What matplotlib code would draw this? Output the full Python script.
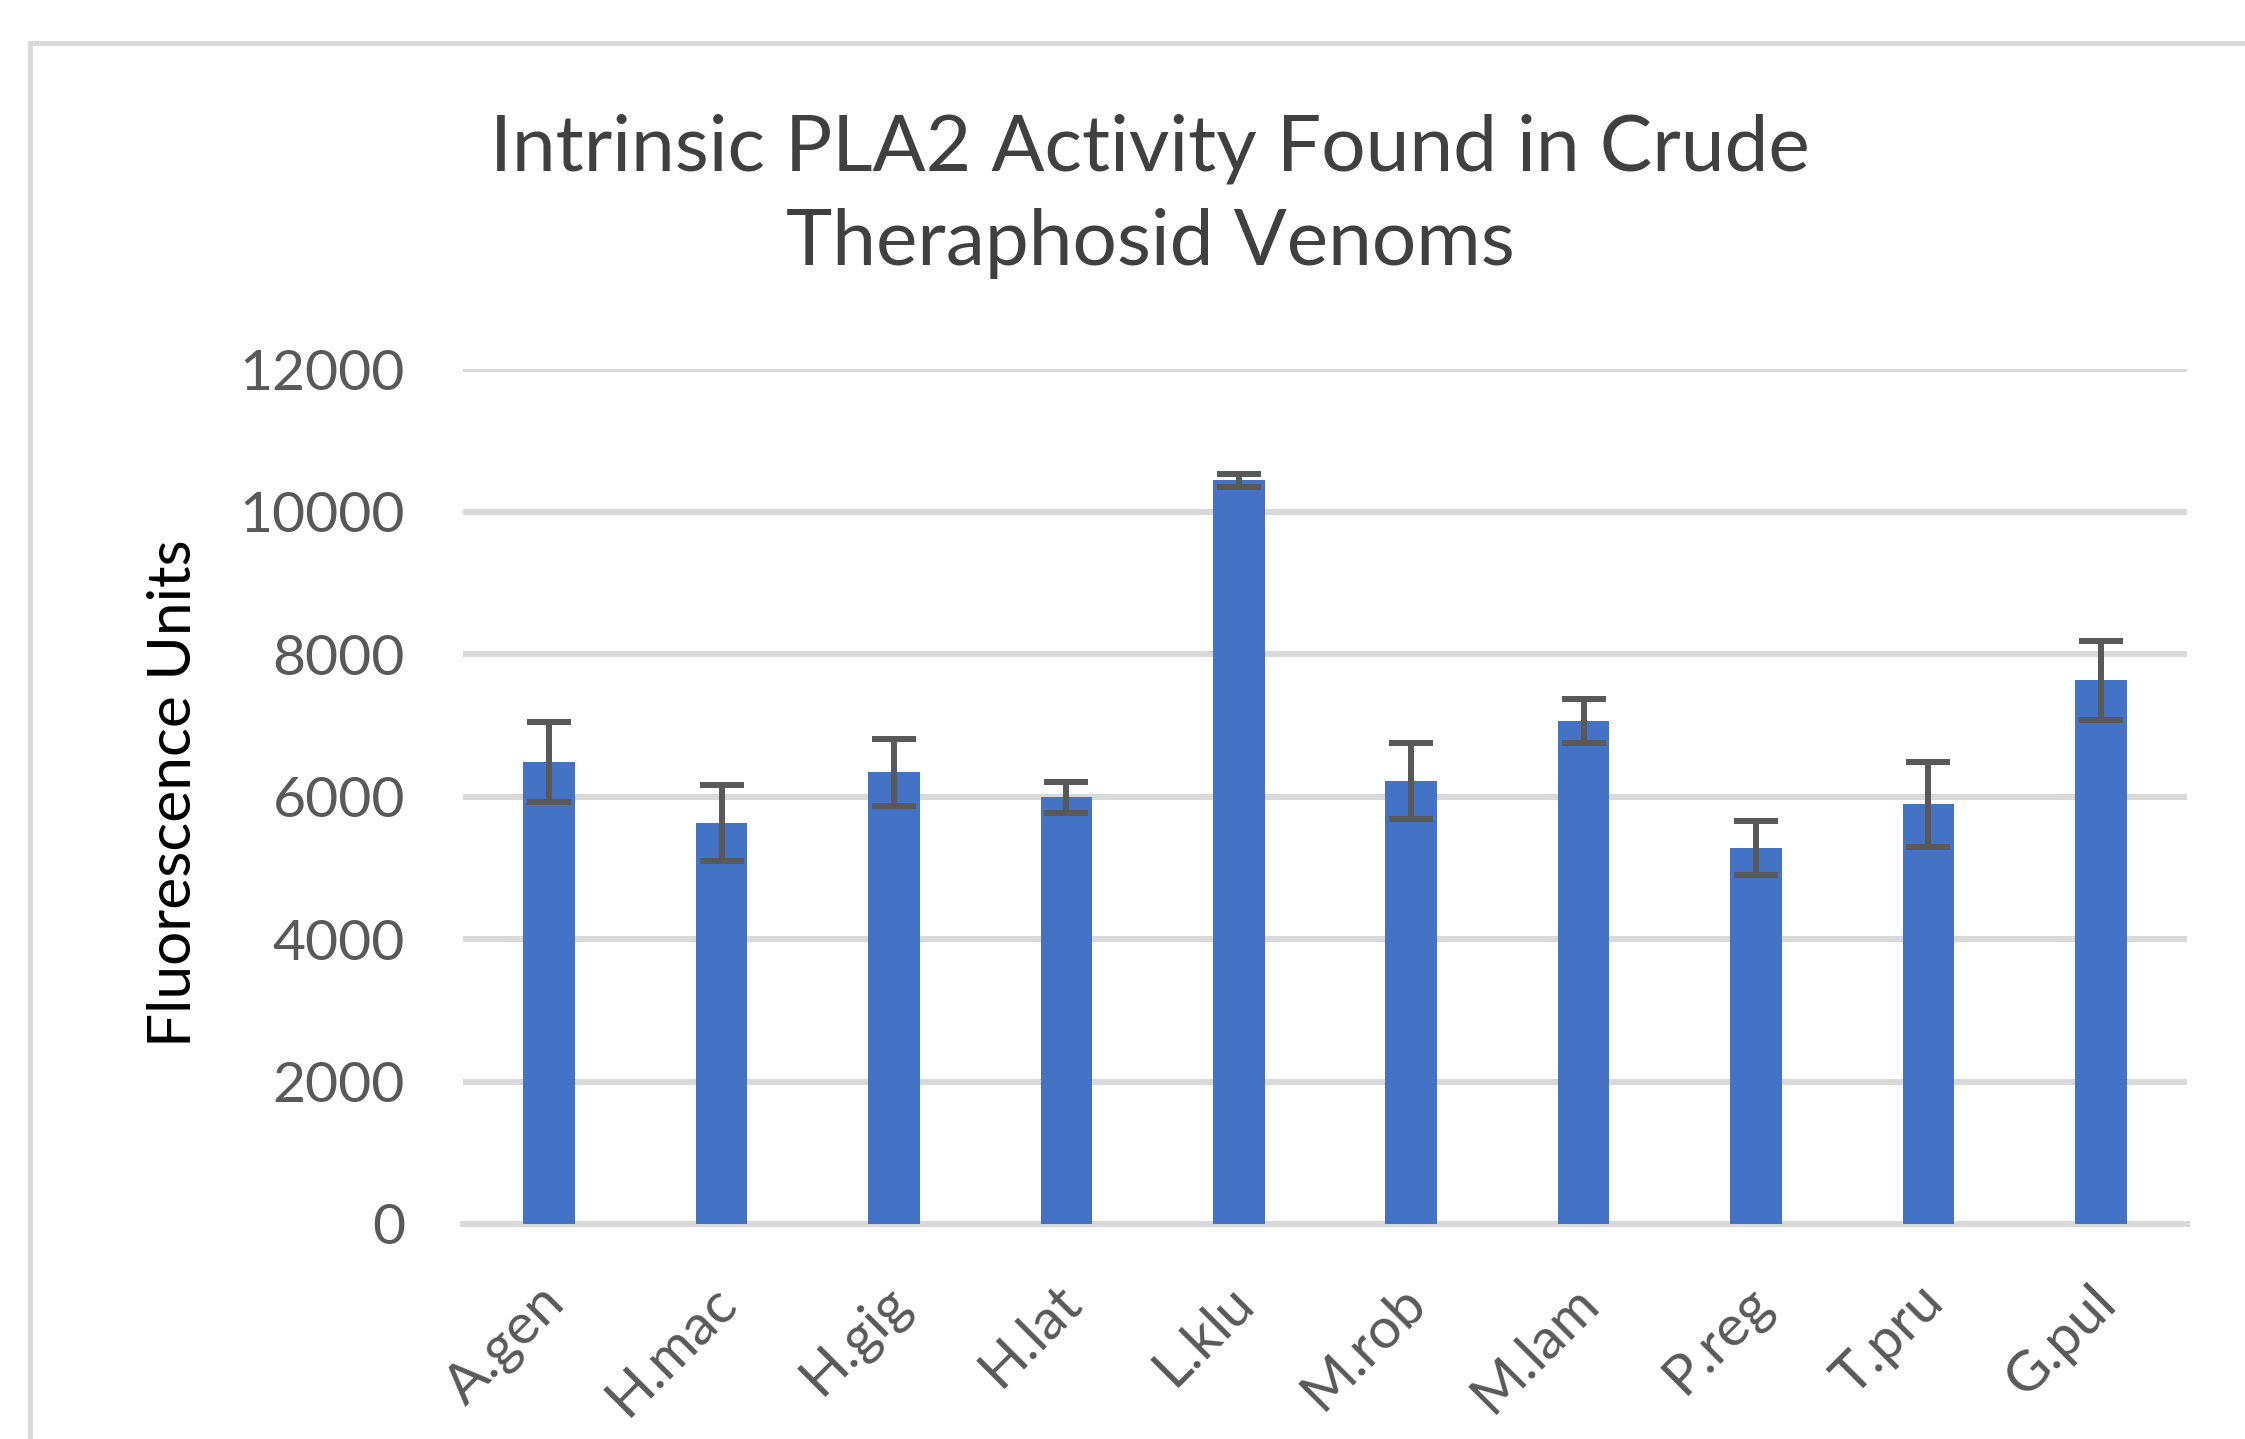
import matplotlib
matplotlib.use("Agg")
from matplotlib import pyplot as plt
from matplotlib.patches import Rectangle
import matplotlib.transforms as mtransforms

# datos
especies = ["A.gen", "H.mac", "H.gig", "H.lat", "L.klu",
            "M.rob", "M.lam", "P.reg", "T.pru", "G.pul"]
fluorescencia = [6480, 5630, 6340, 5990, 10440, 6220, 7060, 5280, 5890, 7630]
error = [560, 530, 470, 220, 90, 530, 310, 375, 600, 555]

W, H = 2245, 1439
DPI = 100
px = 72 / DPI  # puntos por pixel

plt.rcParams['font.family'] = ['Lato', 'DejaVu Sans']

fig = plt.figure(figsize=(W / DPI, H / DPI), dpi=DPI)
fig.patch.set_facecolor('white')

# marco del grafico (se sale por la derecha y por abajo)
fig.add_artist(Rectangle((29.5 / W, -0.2), 1.2, (H - 43) / H + 0.2,
                         transform=fig.transFigure, fill=False,
                         edgecolor='#d9d9d9', linewidth=5 * px))

ax = fig.add_axes([463 / W, 1 - 1224 / H, (2187 - 463) / W, (1224 - 369) / H])

x = range(len(especies))
ax.bar(x, fluorescencia, width=0.30, color='#4472c4', zorder=3)
ax.errorbar(x, fluorescencia, yerr=error, fmt='none', ecolor='#595959',
            elinewidth=6 * px, capsize=16, capthick=6 * px, zorder=4)

ax.set_xlim(-0.5, len(especies) - 0.5)
ax.set_ylim(0, 12000)
ax.set_yticks(range(0, 12001, 2000))
ax.grid(axis='y', color='#d9d9d9', linewidth=6 * px, zorder=0)
ax.set_axisbelow(True)
for lado in ['top', 'right', 'left']:
    ax.spines[lado].set_visible(False)
ax.spines['bottom'].set_color('#d9d9d9')
ax.spines['bottom'].set_linewidth(6 * px)
ax.spines['bottom'].set_zorder(2)

ax.tick_params(axis='both', length=0, labelsize=41, labelcolor='#595959')
ax.tick_params(axis='y', pad=58 * px)
ax.set_xticks(list(x))
ax.set_xticklabels(especies, rotation=45, ha='right', va='center',
                   rotation_mode='anchor')
ax.tick_params(axis='x', pad=70 * px)
desplaz = mtransforms.ScaledTranslation(7 / DPI, 0, fig.dpi_scale_trans)
for etiqueta in ax.get_xticklabels():
    etiqueta.set_transform(etiqueta.get_transform() + desplaz)

ax.set_ylabel('Fluorescence Units', fontsize=43.5, color='black', va='center')
ax.yaxis.set_label_coords((174 - 463) / (2187 - 463), (1224 - 793) / (1224 - 369))

titulo = ['Intrinsic PLA2 Activity Found in Crude', 'Theraphosid Venoms']
for linea, base in zip(titulo, [170, 265]):
    fig.text(1150 / W, 1 - base / H, linea, ha='center', va='baseline',
             fontsize=56.5, color='#404040')

fig.savefig('out.png', dpi=DPI)
